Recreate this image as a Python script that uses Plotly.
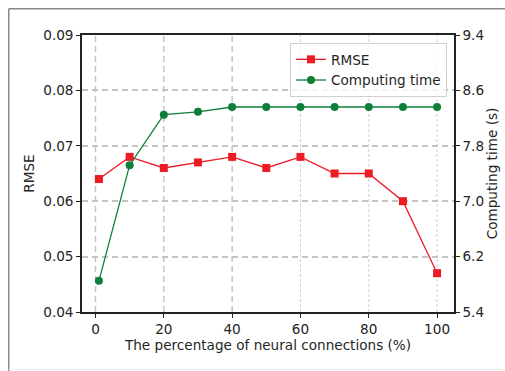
import plotly.graph_objects as go

connections = [1, 10, 20, 30, 40, 50, 60, 70, 80, 90, 100]
rmse = [0.064, 0.068, 0.066, 0.067, 0.068, 0.066, 0.068, 0.065, 0.065, 0.060, 0.047]
comp_time = [5.85, 7.52, 8.25, 8.29, 8.36, 8.36, 8.36, 8.36, 8.36, 8.36, 8.36]

x_ticks = [0, 20, 40, 60, 80, 100]
x_ticks_thick = [0, 20, 40]
x_ticks_thin = [60, 80, 100]
y_ticks = [0.04, 0.05, 0.06, 0.07, 0.08, 0.09]
y2_ticks = [5.4, 6.2, 7.0, 7.8, 8.6, 9.4]

RED = "#ec1c24"
GREEN = "#0e7f3a"
FONT = "DejaVu Sans"
FS = 13.6

fig = go.Figure()
fig.add_trace(go.Scatter(
    x=connections, y=rmse, name="RMSE", mode="lines+markers",
    line=dict(color=RED, width=1.3),
    marker=dict(symbol="square", size=8, color=RED),
    yaxis="y",
))
fig.add_trace(go.Scatter(
    x=connections, y=comp_time, name="Computing time", mode="lines+markers",
    line=dict(color=GREEN, width=1.3),
    marker=dict(symbol="circle", size=8, color=GREEN),
    yaxis="y2",
))

W, H = 505, 371
L, R, T, B = 82, 51, 35, 59
pw, ph = W - L - R, H - T - B

def px(x):  # page pixel -> paper
    return (x - L) / pw

def py(y):
    return (H - B - y) / ph

shapes = []
for v in x_ticks_thick:
    shapes.append(dict(type="line", xref="x", yref="paper", x0=v, x1=v, y0=0, y1=1,
                       layer="below", line=dict(color="#c4c4c4", width=1.5, dash="6px,4px")))
for v in x_ticks_thin:
    shapes.append(dict(type="line", xref="x", yref="paper", x0=v, x1=v, y0=0, y1=1,
                       layer="below", line=dict(color="#d2d2d2", width=1, dash="3px,2px")))
# outer frame
shapes.append(dict(type="line", xref="paper", yref="paper", x0=px(8.75), x1=px(8.75), y0=py(8.75), y1=py(371),
                   line=dict(color="#8a8a8a", width=1.5)))
shapes.append(dict(type="line", xref="paper", yref="paper", x0=px(8.75), x1=px(505), y0=py(8.75), y1=py(8.75),
                   line=dict(color="#8a8a8a", width=1.5)))
shapes.append(dict(type="line", xref="paper", yref="paper", x0=px(8.75), x1=px(505), y0=py(369.5), y1=py(369.5),
                   line=dict(color="#ececec", width=1)))

fig.update_layout(
    template="none",
    width=W, height=H,
    margin=dict(l=L, r=R, t=T, b=B, autoexpand=False),
    paper_bgcolor="white", plot_bgcolor="white",
    font=dict(family=FONT, size=FS, color="#262626"),
    showlegend=True,
    legend=dict(x=px(447), y=py(43), xanchor="right", yanchor="top",
                bgcolor="rgba(255,255,255,0.8)", bordercolor="#d0d0d0", borderwidth=1,
                font=dict(family=FONT, size=FS, color="#262626"),
                tracegroupgap=0),
    xaxis=dict(
        range=[-3.95, 104.95], tickvals=x_ticks, showgrid=False, zeroline=False, automargin=False,
        showline=True, linecolor="#222", linewidth=1.5, mirror=True,
        ticks="outside", ticklen=4, tickwidth=1, tickcolor="#222",
        tickfont=dict(size=FS),
        title=dict(text="The percentage of neural connections (%)", standoff=2, font=dict(size=FS)),
    ),
    yaxis=dict(
        range=[0.04, 0.09], tickvals=y_ticks, tickformat=".2f", automargin=False,
        showgrid=True, gridcolor="#c4c4c4", gridwidth=1.5, griddash="6px,4px", zeroline=False,
        showline=True, linecolor="#222", linewidth=1.5,
        ticks="outside", ticklen=4, tickwidth=1, tickcolor="#222",
        tickfont=dict(size=FS),
        title=dict(text="RMSE", standoff=5, font=dict(size=FS)),
    ),
    yaxis2=dict(
        range=[5.4, 9.4], tickvals=y2_ticks, tickformat=".1f", automargin=False,
        overlaying="y", side="right", showgrid=False, zeroline=False,
        showline=True, linecolor="#222", linewidth=1.5,
        ticks="outside", ticklen=4, tickwidth=1, tickcolor="#222",
        tickfont=dict(size=FS),
        title=dict(text="Computing time (s)", standoff=4, font=dict(size=FS)),
    ),
    shapes=shapes,
)

fig.write_html(
    "out.html",
    config={"displayModeBar": False},
    post_script="document.body.style.margin='0';document.body.style.overflow='hidden';",
)
